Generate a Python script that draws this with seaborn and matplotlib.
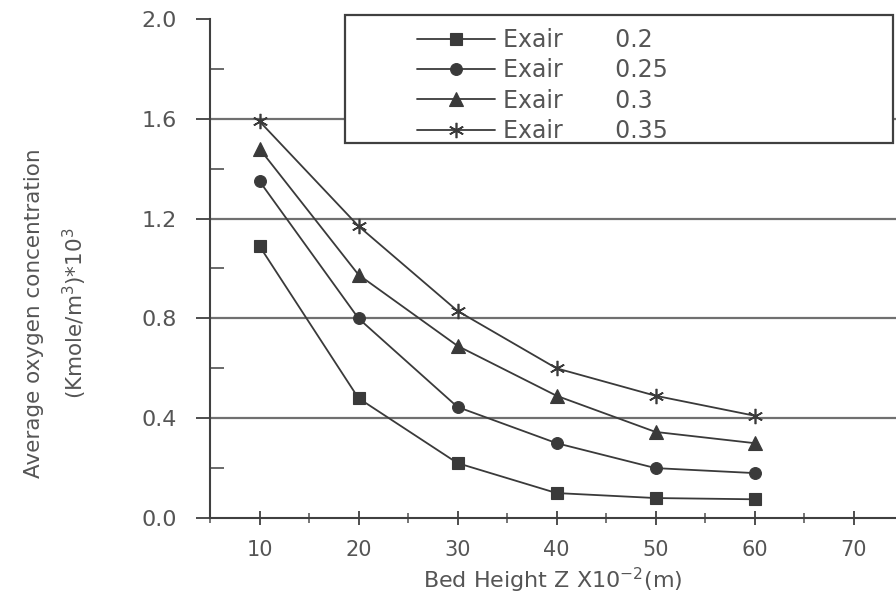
import matplotlib
matplotlib.use("Agg")
import matplotlib.pyplot as plt
from matplotlib.patches import Rectangle
from matplotlib.ticker import MultipleLocator, FormatStrFormatter
import numpy as np
import pandas as pd
import seaborn as sns

# Bed height (x 10^-2 m)
bed_height = [10, 20, 30, 40, 50, 60]

# Average oxygen concentration for each excess-air ratio
exair_020 = [1.09, 0.48, 0.22, 0.10, 0.08, 0.075]
exair_025 = [1.35, 0.80, 0.445, 0.30, 0.20, 0.18]
exair_030 = [1.48, 0.975, 0.69, 0.49, 0.345, 0.30]
exair_035 = [1.59, 1.17, 0.83, 0.60, 0.49, 0.41]

series_labels = ["Exair       0.2", "Exair       0.25",
                 "Exair       0.3", "Exair       0.35"]
series_values = [exair_020, exair_025, exair_030, exair_035]

x_ticks = [10, 20, 30, 40, 50, 60, 70]
y_ticks = [0.0, 0.4, 0.8, 1.2, 1.6, 2.0]

df = pd.DataFrame({
    "z": bed_height * len(series_labels),
    "conc": sum(series_values, []),
    "series": np.repeat(series_labels, len(bed_height)),
})

sns.set_theme(style="white")
plt.rcParams["font.family"] = ["DejaVu Sans"]

TEXT = "#555555"
LINE = "#3a3a3a"

fig = plt.figure(figsize=(8.96, 6.03), dpi=100)
ax = fig.add_axes([210 / 896, 1 - 518 / 603, 1 - 210 / 896, (518 - 19) / 603])

styles = {
    series_labels[0]: dict(marker="s", markersize=9, markerfacecolor=LINE),
    series_labels[1]: dict(marker="o", markersize=8.5, markerfacecolor=LINE),
    series_labels[2]: dict(marker="^", markersize=10, markerfacecolor=LINE),
    series_labels[3]: dict(marker=(6, 2, 0), markersize=11, markerfacecolor="none",
                           markeredgewidth=1.2),
}

for label in series_labels:
    sub = df[df["series"] == label]
    kw = dict(styles[label])
    kw.setdefault("markeredgewidth", 0.8)
    sns.lineplot(data=sub, x="z", y="conc", ax=ax, color=LINE, linewidth=1.3,
                 markeredgecolor=LINE, label=label, zorder=4, **kw)

x_max = 5 + 686 / 9.9
ax.set_xlim(5, x_max)
ax.set_ylim(0, 2.0)

# horizontal reference lines at the inner y ticks
ax.hlines(y_ticks[1:-1], 5, x_max, colors="#707070", linewidth=1.6, zorder=1)

ax.set_xticks(x_ticks)
ax.set_yticks(y_ticks)
ax.xaxis.set_minor_locator(MultipleLocator(5))
ax.yaxis.set_minor_locator(MultipleLocator(0.2))
ax.yaxis.set_major_formatter(FormatStrFormatter("%.1f"))

for side in ["top", "right"]:
    ax.spines[side].set_visible(False)
for side in ["left", "bottom"]:
    ax.spines[side].set_color("#404040")
    ax.spines[side].set_linewidth(1.5)

ax.tick_params(axis="y", which="major", direction="out", length=10, width=1.3,
               color="#404040", labelsize=16, labelcolor=TEXT, pad=14, left=True)
ax.tick_params(axis="y", which="minor", direction="in", length=10, width=1.2,
               color="#505050", left=True)
ax.tick_params(axis="x", which="major", direction="inout", length=10, width=1.3,
               color="#404040", labelsize=15, labelcolor=TEXT, pad=11, bottom=True)
ax.tick_params(axis="x", which="minor", direction="inout", length=7, width=1.1,
               color="#505050", bottom=True)

ax.set_xlabel("Bed Height Z X10$^{-2}$(m)", fontsize=16, color=TEXT, labelpad=4)
ax.set_ylabel("Average oxygen concentration\n(Kmole/m$^{3}$)*10$^{3}$",
              fontsize=15.5, color=TEXT, linespacing=1.75)
ax.yaxis.set_label_coords(-0.176, 0.41)

# legend frame drawn as a white box above the reference lines
box = Rectangle((345 / 896, 1 - 143 / 603), (893 - 345) / 896, (143 - 15) / 603,
                transform=fig.transFigure, facecolor="white", edgecolor="#404040",
                linewidth=1.6, zorder=5)
fig.add_artist(box)

handles, labels = ax.get_legend_handles_labels()
leg = fig.legend(handles, labels, loc="upper left",
                 bbox_to_anchor=(417 / 896, 1 - 28 / 603),
                 frameon=False, fontsize=17, handlelength=3.3, handletextpad=0.33,
                 labelspacing=0.27, borderpad=0, borderaxespad=0)
leg.set_zorder(6)
for t in leg.get_texts():
    t.set_color(TEXT)
ax.get_legend().remove()

fig.savefig("out.png", dpi=100, facecolor="white")
